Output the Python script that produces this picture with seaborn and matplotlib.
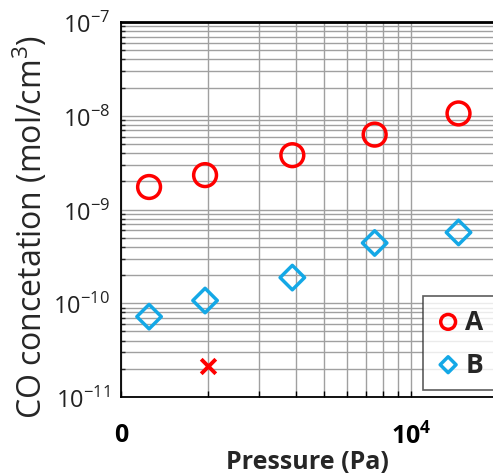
import pandas as pd
import seaborn as sns
import matplotlib.pyplot as plt
from matplotlib.ticker import FixedLocator, NullFormatter, LogLocator

# Values
pressure = [1250, 1950, 3900, 7500, 14600]
conc_a = [1.74e-9, 2.33e-9, 3.8e-9, 6.3e-9, 1.06e-8]
conc_b = [7.2e-11, 1.07e-10, 1.88e-10, 4.4e-10, 5.7e-10]
cross_pressure = [1990]
cross_conc = [2.14e-11]

x_major = [1000, 10000]
x_major_labels = ['0', '$\\mathbf{10^4}$']
x_minor = [2000, 3000, 4000, 5000, 6000, 7000, 8000, 9000]
y_major = [1e-11, 1e-10, 1e-9, 1e-8, 1e-7]
y_major_labels = ['$10^{-11}$', '$10^{-10}$', '$10^{-9}$', '$10^{-8}$', '$10^{-7}$']

df = pd.DataFrame({
    'Pressure': pressure * 2,
    'Conc': conc_a + conc_b,
    'Series': ['A'] * len(pressure) + ['B'] * len(pressure),
})
cross = pd.DataFrame({'Pressure': cross_pressure, 'Conc': cross_conc})

sns.set_theme(style="white")
plt.rcParams['font.family'] = ['Open Sans', 'DejaVu Sans']
plt.rcParams['mathtext.fontset'] = 'custom'
plt.rcParams['mathtext.rm'] = 'Open Sans'
plt.rcParams['mathtext.bf'] = 'Open Sans:bold'

fig = plt.figure(figsize=(4.93, 4.77), dpi=100)
ax = fig.add_axes([0.2454, 0.1656, 0.7546, 0.786])

colors = {'A': '#FF0000', 'B': '#14A8E6'}
markers = {'A': 'o', 'B': 'D'}
sizes = {'A': 270, 'B': 155}
for name in ['A', 'B']:
    sub = df[df['Series'] == name]
    sns.scatterplot(data=sub, x='Pressure', y='Conc', ax=ax, marker=markers[name],
                    s=sizes[name], color=colors[name], facecolor='none',
                    edgecolor=colors[name], linewidth=2.5, label=name, zorder=3)

sns.scatterplot(data=cross, x='Pressure', y='Conc', ax=ax, marker='x', s=110,
                color='#FF0000', linewidth=2.8, zorder=3, legend=False)

ax.set_xscale('log')
ax.set_yscale('log')
ax.set_xlim(1000, 19200)
ax.set_ylim(1e-11, 1e-7)

ax.xaxis.set_major_locator(FixedLocator(x_major))
ax.xaxis.set_minor_locator(FixedLocator(x_minor))
ax.set_xticklabels(x_major_labels, fontsize=18, fontweight='bold')
ax.xaxis.set_minor_formatter(NullFormatter())

ax.yaxis.set_major_locator(FixedLocator(y_major))
ax.yaxis.set_minor_locator(LogLocator(base=10, subs=range(2, 10)))
ax.set_yticklabels(y_major_labels, fontsize=17, color='#222222')
ax.yaxis.set_minor_formatter(NullFormatter())

ax.grid(True, which='both', axis='both', color='#a0a0a0', linewidth=1.0)
ax.tick_params(axis='x', which='both', direction='in', length=4, width=1,
               bottom=True, pad=18, colors='black')
ax.tick_params(axis='y', which='major', direction='in', length=0, left=True, pad=8)
ax.tick_params(axis='y', which='minor', direction='in', length=3, width=1, left=True)

for side in ['left', 'bottom']:
    ax.spines[side].set_color('black')
    ax.spines[side].set_linewidth(1.3)
ax.spines['top'].set_color('black')
ax.spines['top'].set_linewidth(2.0)
ax.spines['right'].set_visible(False)

ax.set_xlabel('Pressure (Pa)', fontsize=18, fontweight='bold', labelpad=0)
ax.set_ylabel('CO concetation (mol/cm$^3$)', fontsize=23)
ax.yaxis.set_label_coords(-0.19, 0.455)

leg = ax.legend(loc='lower left', bbox_to_anchor=(0.812, 0.02), frameon=True,
                fancybox=False, edgecolor='#333333', markerscale=0.65,
                borderaxespad=0, handletextpad=0.15, borderpad=0.45, labelspacing=0.6,
                prop={'weight': 'bold', 'size': 19}, handlelength=1.0)
leg.get_frame().set_linewidth(1.2)

fig.savefig('out.png', dpi=100)
